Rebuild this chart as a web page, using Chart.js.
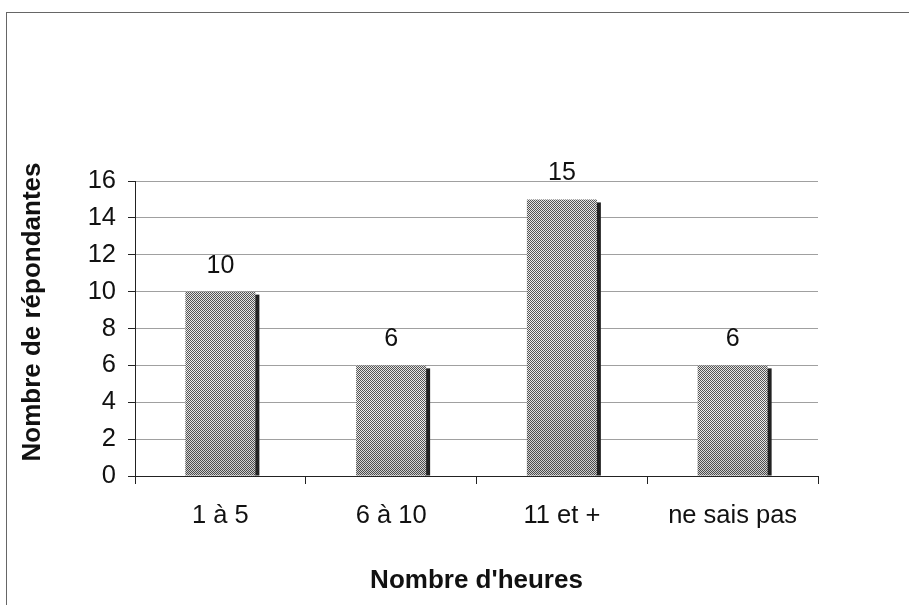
<!DOCTYPE html>
<html>
<head>
<meta charset="utf-8">
<script src="https://cdn.jsdelivr.net/npm/chart.js@4/dist/chart.umd.min.js"></script>
<style>
  html, body { margin: 0; padding: 0; background: #fff; }
  #wrap { position: relative; width: 909px; height: 605px; overflow: hidden; }
  #frame { position: absolute; left: 6px; top: 12px; width: 920px; height: 620px;
           border-top: 1px solid #666; border-left: 1px solid #666; }
  canvas { position: absolute; left: 0; top: 0; }
</style>
</head>
<body>
<div id="wrap">
  <div id="frame"></div>
  <canvas id="c" width="909" height="605"></canvas>
</div>
<script>
// Heures par semaine et nombre de répondantes
const categories = ['1 à 5', '6 à 10', '11 et +', 'ne sais pas'];
const respondents = [10, 6, 15, 6];
const yTicks = [0, 2, 4, 6, 8, 10, 12, 14, 16];

const FONT = '"Liberation Sans", Arial, sans-serif';

// halftone fill for the bars
function makeDots() {
  const t = document.createElement('canvas');
  t.width = 2; t.height = 2;
  const g = t.getContext('2d');
  g.fillStyle = '#f2f2f2'; g.fillRect(0, 0, 2, 2);
  g.fillStyle = '#585858'; g.fillRect(0, 0, 1, 1); g.fillRect(1, 1, 1, 1);
  return document.getElementById('c').getContext('2d').createPattern(t, 'repeat');
}

// dark shadow strip on the right side of each bar, shading, and value labels
const barDecor = {
  id: 'barDecor',
  beforeDatasetsDraw(chart) {
    const ctx = chart.ctx;
    const meta = chart.getDatasetMeta(0);
    ctx.save();
    ctx.fillStyle = '#222';
    meta.data.forEach(bar => {
      const right = bar.x + bar.width / 2;
      ctx.fillRect(right - 1, bar.y + 3, 5, bar.base - bar.y - 3);
    });
    ctx.restore();
  },
  afterDatasetsDraw(chart) {
    const ctx = chart.ctx;
    const meta = chart.getDatasetMeta(0);
    ctx.save();
    meta.data.forEach(bar => {
      const left = bar.x - bar.width / 2;
      const h = bar.base - bar.y;
      const gr = ctx.createLinearGradient(0, bar.base, 0, bar.y);
      gr.addColorStop(0, 'rgba(0,0,0,0.16)');
      gr.addColorStop(0.35, 'rgba(0,0,0,0.04)');
      gr.addColorStop(0.6, 'rgba(0,0,0,0)');
      gr.addColorStop(1, 'rgba(0,0,0,0.06)');
      ctx.fillStyle = gr;
      ctx.fillRect(left, bar.y, bar.width, h);
    });
    ctx.font = '25px ' + FONT;
    ctx.fillStyle = '#111';
    ctx.textAlign = 'center';
    ctx.textBaseline = 'middle';
    meta.data.forEach((bar, i) => {
      ctx.fillText(String(chart.data.datasets[0].data[i]), bar.x, bar.y - 26);
    });
    ctx.restore();
  },
  afterDraw(chart) {
    // vertical axis title
    const ctx = chart.ctx;
    ctx.save();
    ctx.font = 'bold 26px ' + FONT;
    ctx.fillStyle = '#111';
    ctx.textAlign = 'center';
    ctx.textBaseline = 'middle';
    ctx.translate(33, 312);
    ctx.rotate(-Math.PI / 2);
    ctx.fillText('Nombre de répondantes', 0, 0);
    ctx.restore();
  }
};

new Chart(document.getElementById('c'), {
  type: 'bar',
  data: {
    labels: categories,
    datasets: [{
      data: respondents,
      backgroundColor: makeDots(),
      borderWidth: 0,
      categoryPercentage: 1,
      barPercentage: 0.41
    }]
  },
  options: {
    responsive: false,
    animation: false,
    devicePixelRatio: 1,
    layout: { padding: { top: 181, right: 91, bottom: 0, left: 0 } },
    plugins: { legend: { display: false }, tooltip: { enabled: false } },
    scales: {
      x: {
        grid: { offset: true, drawOnChartArea: false, drawTicks: true, tickLength: 8, tickColor: '#222' },
        border: { color: '#222', width: 1 },
        ticks: { color: '#111', font: { family: FONT, size: 25.5 }, padding: 17 },
        title: { display: true, text: "Nombre d'heures", color: '#111',
                 font: { family: FONT, size: 26, weight: 'bold' }, padding: { top: 0, bottom: 9 } },
        afterFit(s) { s.height = 129; }
      },
      y: {
        min: 0, max: 16,
        afterBuildTicks(s) { s.ticks = yTicks.map(v => ({ value: v })); },
        grid: { color: '#a0a0a0', tickColor: '#222', tickLength: 7 },
        border: { color: '#222', width: 1 },
        ticks: { color: '#111', font: { family: FONT, size: 25.5 }, padding: 12 },
        afterFit(s) { s.width = 135; }
      }
    }
  },
  plugins: [barDecor]
});
</script>
</body>
</html>
